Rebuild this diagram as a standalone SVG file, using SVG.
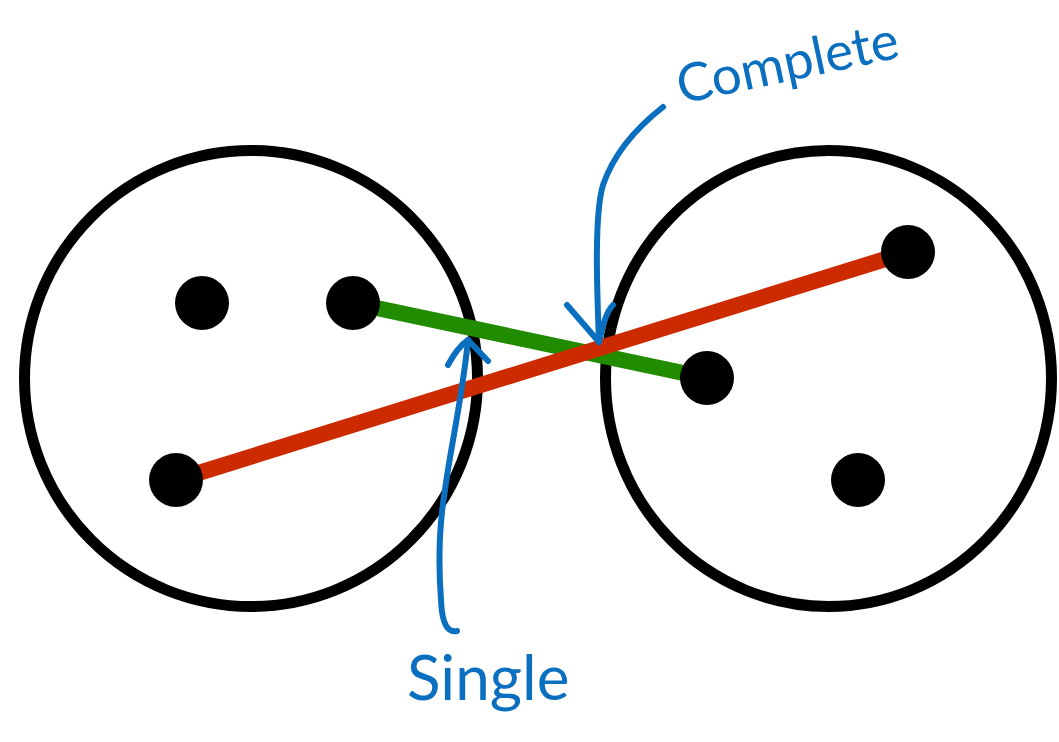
<svg xmlns="http://www.w3.org/2000/svg" width="1059" height="742" viewBox="0 0 1059 742">
  <style>
    .cluster { fill: none; stroke: #000; stroke-width: 11; }
    .dot { fill: #000; }
    .link { fill: none; stroke-width: 16; stroke-linecap: butt; }
    .green { stroke: #228C00; }
    .red { stroke: #CC2B00; }
    .ink { fill: none; stroke: #0B6FC0; stroke-width: 6; stroke-linecap: round; stroke-linejoin: round; }
    .hand { fill: #0B6FC0; font-family: "Lato", "Open Sans", sans-serif; font-weight: 400; }
  </style>
  <rect width="1059" height="742" fill="#fff"/>

  <g id="cluster-left">
    <ellipse class="cluster" cx="251" cy="378.5" rx="226.5" ry="228"/>
  </g>
  <g id="cluster-right">
    <ellipse class="cluster" cx="828.5" cy="378.5" rx="223" ry="228"/>
  </g>

  <g id="connectors">
    <line class="link green" x1="353" y1="303" x2="707" y2="378"/>
    <line class="link red" x1="176" y1="480" x2="908" y2="252"/>
  </g>

  <g id="point-l1"><circle class="dot" cx="202" cy="303" r="27"/></g>
  <g id="point-l2"><circle class="dot" cx="353" cy="303" r="27"/></g>
  <g id="point-l3"><circle class="dot" cx="176" cy="480" r="27"/></g>
  <g id="point-r1"><circle class="dot" cx="908" cy="252" r="27"/></g>
  <g id="point-r2"><circle class="dot" cx="707" cy="378" r="27"/></g>
  <g id="point-r3"><circle class="dot" cx="858" cy="480" r="27"/></g>

  <g id="label-complete">
    <path class="ink" d="M663 107 C640 125 615 150 603 185 C594 215 597 290 599 342"/>
    <path class="ink" d="M567 305 L599 342 C603 325 606 312 613 305"/>
    <text class="hand" transform="translate(681 104) rotate(-12)" font-size="53">Complete</text>
  </g>

  <g id="label-single">
    <path class="ink" d="M457 631 C448 633 442 625 441 600 C438 560 440 520 445 490 C450 450 462 400 468 340"/>
    <path class="ink" d="M448 365 C455 352 462 344 468 340 L488 361"/>
    <text class="hand" x="407" y="700" font-size="62">Single</text>
  </g>
</svg>
